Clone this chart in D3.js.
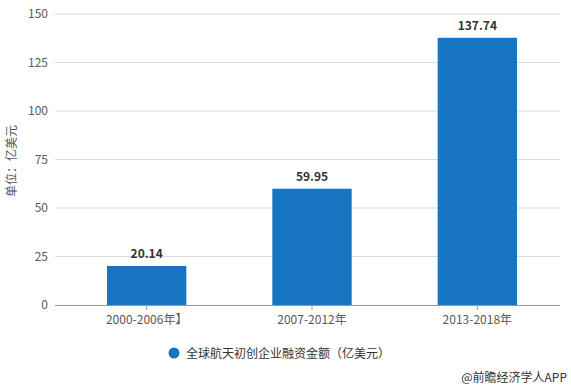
<!DOCTYPE html>
<html>
<head>
<meta charset="utf-8">
<script src="https://cdn.jsdelivr.net/npm/d3@7"></script>
<style>
  body { margin: 0; background: #fff; }
  svg { display: block; font-family: "Microsoft YaHei", "Noto Sans CJK SC", sans-serif; }
</style>
</head>
<body>
<svg id="chart" width="571" height="389"></svg>
<script>
// data
var categories = ['2000-2006年】', '2007-2012年', '2013-2018年']
var values = [20.14, 59.95, 137.74]
var yTicks = [0, 25, 50, 75, 100, 125, 150]
var seriesName = '全球航天初创企业融资金额（亿美元）'
var yTitle = '单位：亿美元'
var source = '@前瞻经济学人APP'

var colorBar = '#1775c2'
var colorGrid = '#d9d9d9'
var colorText = '#595959'

var svg = d3.select('#chart')

var x = d3.scaleBand().domain(categories).range([64, 560]).paddingInner(0.52).paddingOuter(0.26)
var y = d3.scaleLinear().domain([0, 150]).range([305, 14])

// gridlines
svg.append('g')
  .selectAll('line')
  .data(yTicks.slice(1))
  .join('line')
  .attr('x1', 55).attr('x2', 560)
  .attr('y1', d => y(d)).attr('y2', d => y(d))
  .attr('stroke', colorGrid)

// y labels
svg.append('g')
  .selectAll('text')
  .data(yTicks)
  .join('text')
  .attr('x', 48)
  .attr('y', d => y(d) + 4)
  .attr('text-anchor', 'end')
  .attr('font-size', 12)
  .attr('fill', colorText)
  .text(d => d)

// y title
svg.append('text')
  .attr('transform', 'translate(16,161) rotate(-90)')
  .attr('text-anchor', 'middle')
  .attr('font-size', 12)
  .attr('fill', colorText)
  .text(yTitle)

// bars
svg.append('g')
  .selectAll('rect')
  .data(values)
  .join('rect')
  .attr('x', (d, i) => x(categories[i]))
  .attr('width', x.bandwidth())
  .attr('y', d => y(d))
  .attr('height', d => y(0) - y(d))
  .attr('fill', colorBar)

// value labels
svg.append('g')
  .selectAll('text')
  .data(values)
  .join('text')
  .attr('x', (d, i) => x(categories[i]) + x.bandwidth() / 2)
  .attr('y', d => y(d) - 8)
  .attr('text-anchor', 'middle')
  .attr('font-size', 12)
  .attr('font-weight', 'bold')
  .attr('fill', '#333')
  .text(d => d.toFixed(2))

// x axis
var xAxis = svg.append('g')
  .attr('transform', 'translate(0,' + y(0) + ')')
  .call(d3.axisBottom(x).tickSize(5).tickPadding(5))
xAxis.select('.domain').attr('stroke', '#999').attr('d', 'M55,0.5H560')
xAxis.selectAll('.tick line').attr('stroke', '#999')
xAxis.selectAll('.tick text')
  .attr('font-size', 12)
  .attr('fill', colorText)
  .attr('font-family', '"Microsoft YaHei", "Noto Sans CJK SC", sans-serif')

// legend
svg.append('circle').attr('cx', 174).attr('cy', 353).attr('r', 5.5).attr('fill', colorBar)
svg.append('text')
  .attr('x', 186).attr('y', 357.5)
  .attr('font-size', 12)
  .attr('fill', '#333')
  .text(seriesName)

// source
svg.append('text')
  .attr('x', 567).attr('y', 382)
  .attr('text-anchor', 'end')
  .attr('font-size', 12)
  .attr('fill', '#333')
  .text(source)
</script>
</body>
</html>
